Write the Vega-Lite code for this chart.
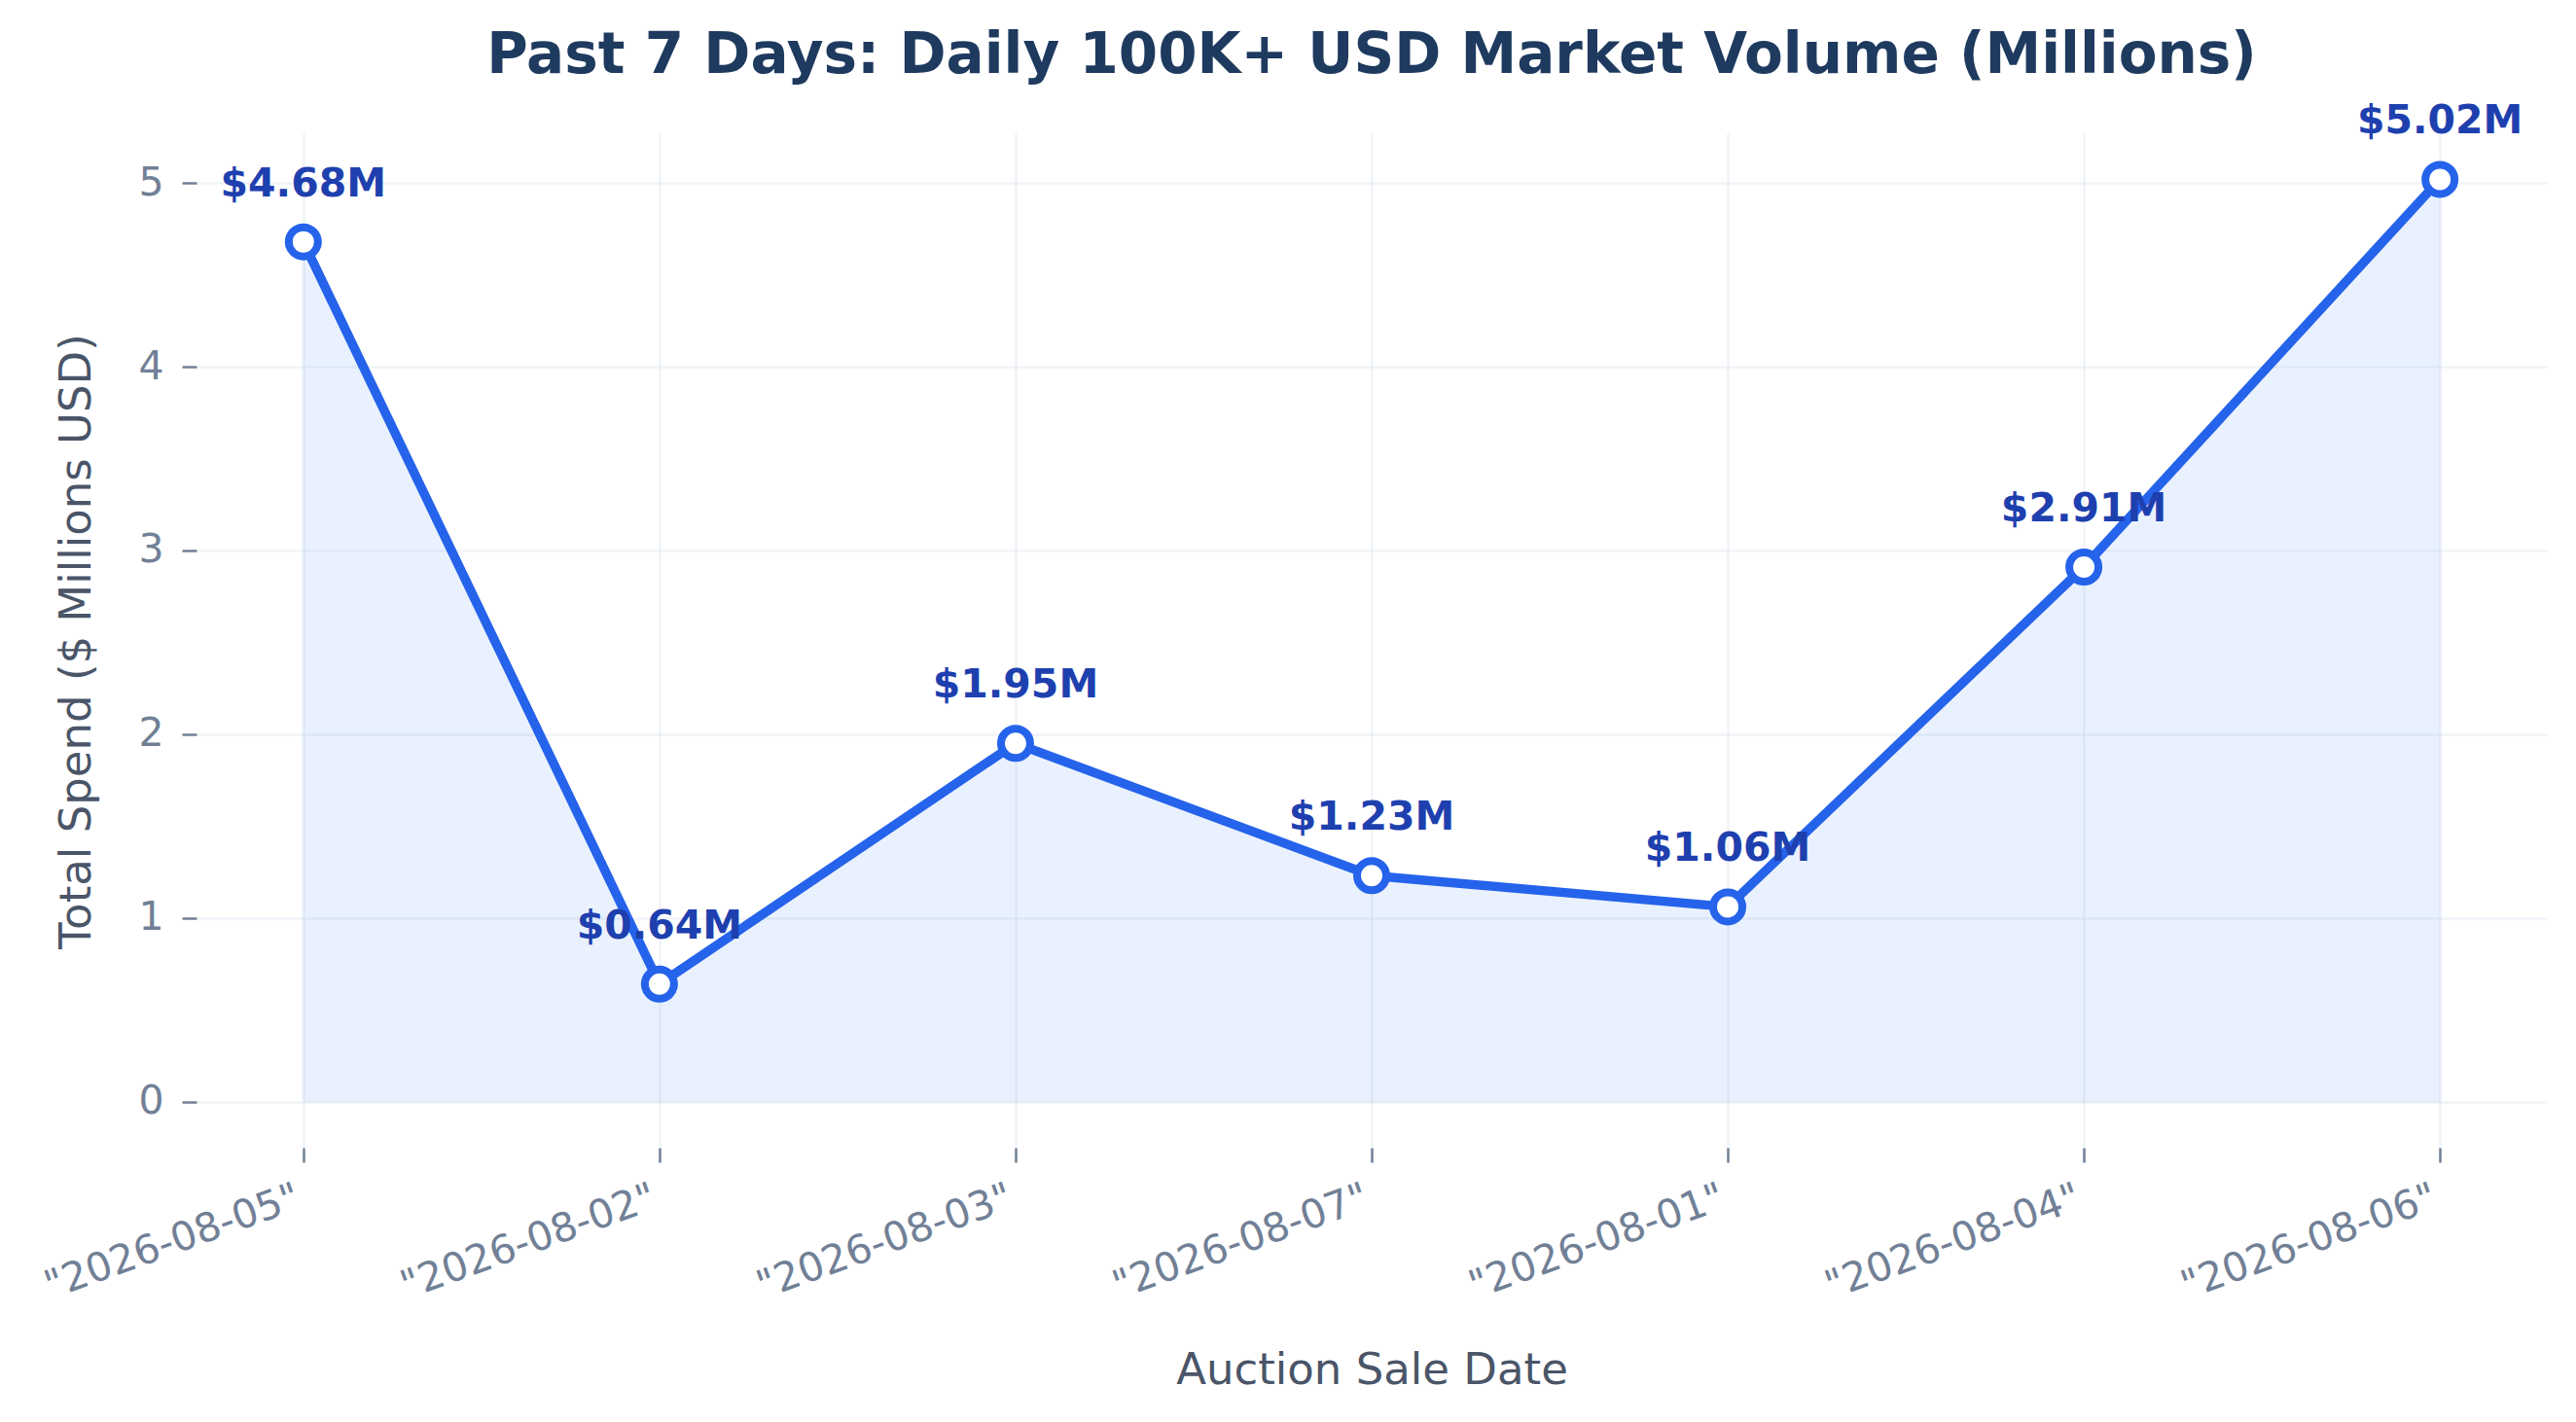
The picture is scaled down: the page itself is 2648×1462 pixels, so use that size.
{
  "$schema": "https://vega.github.io/schema/vega-lite/v6.json",
  "width": 2416,
  "height": 1043,
  "autosize": "none",
  "padding": {"left": 202, "top": 137, "right": 30, "bottom": 282},
  "background": "white",
  "config": {
    "font": "DejaVu Sans",
    "view": {"stroke": null},
    "axis": {
      "labelFont": "DejaVu Sans",
      "titleFont": "DejaVu Sans",
      "labelColor": "#718096",
      "titleColor": "#4a5568",
      "labelFontSize": 41,
      "titleFontSize": 45,
      "titleFontWeight": "normal",
      "labelLimit": 0,
      "tickColor": "#718096",
      "tickSize": 15,
      "tickWidth": 2.5,
      "domain": false,
      "gridColor": "#e2e8f0",
      "gridOpacity": 0.5,
      "gridWidth": 2.5
    }
  },
  "title": {
    "text": "Past 7 Days: Daily 100K+ USD Market Volume (Millions)",
    "font": "DejaVu Sans",
    "fontSize": 58,
    "fontWeight": "bold",
    "color": "#1e3a5f",
    "anchor": "middle",
    "baseline": "alphabetic",
    "offset": -29
  },
  "data": {
    "values": [
      {"date": "\"2026-08-05\"", "value": 4.68, "label": "$4.68M"},
      {"date": "\"2026-08-02\"", "value": 0.64, "label": "$0.64M"},
      {"date": "\"2026-08-03\"", "value": 1.95, "label": "$1.95M"},
      {"date": "\"2026-08-07\"", "value": 1.23, "label": "$1.23M"},
      {"date": "\"2026-08-01\"", "value": 1.06, "label": "$1.06M"},
      {"date": "\"2026-08-04\"", "value": 2.91, "label": "$2.91M"},
      {"date": "\"2026-08-06\"", "value": 5.02, "label": "$5.02M"}
    ]
  },
  "encoding": {
    "x": {
      "field": "date",
      "type": "ordinal",
      "sort": null,
      "scale": {"type": "point", "padding": 0.3},
      "axis": {
        "title": "Auction Sale Date",
        "labelAngle": -20,
        "labelAlign": "right",
        "labelBaseline": "top",
        "labelPadding": 16,
        "labelOffset": -12,
        "labelOverlap": false,
        "labelBound": false,
        "labelFlush": false,
        "grid": true,
        "titleX": 1208,
        "titleY": 242,
        "titleBaseline": "alphabetic",
        "titleAlign": "center"
      }
    },
    "y": {
      "field": "value",
      "type": "quantitative",
      "scale": {"domain": [-0.251, 5.271], "nice": false, "zero": false},
      "axis": {
        "title": "Total Spend ($ Millions USD)",
        "values": [0, 1, 2, 3, 4, 5],
        "labelPadding": 19,
        "grid": true,
        "titleX": -110,
        "titleY": 522,
        "titleAngle": -90,
        "titleBaseline": "alphabetic",
        "titleAlign": "center"
      }
    }
  },
  "layer": [
    {
      "mark": {
        "type": "area",
        "color": "#3b82f6",
        "opacity": 0.1,
        "stroke": "#3b82f6",
        "strokeWidth": 3,
        "strokeOpacity": 0.4
      },
      "encoding": {"y2": {"datum": 0}}
    },
    {
      "mark": {"type": "line", "color": "#2563eb", "strokeWidth": 9.5, "strokeJoin": "round"}
    },
    {
      "mark": {
        "type": "point",
        "shape": "circle",
        "filled": true,
        "fill": "white",
        "stroke": "#2563eb",
        "strokeWidth": 8,
        "size": 900,
        "opacity": 1
      }
    },
    {
      "mark": {
        "type": "text",
        "font": "DejaVu Sans",
        "fontSize": 41,
        "fontWeight": "bold",
        "color": "#1e40af",
        "align": "center",
        "baseline": "alphabetic",
        "dy": -47
      },
      "encoding": {"text": {"field": "label"}}
    }
  ]
}
